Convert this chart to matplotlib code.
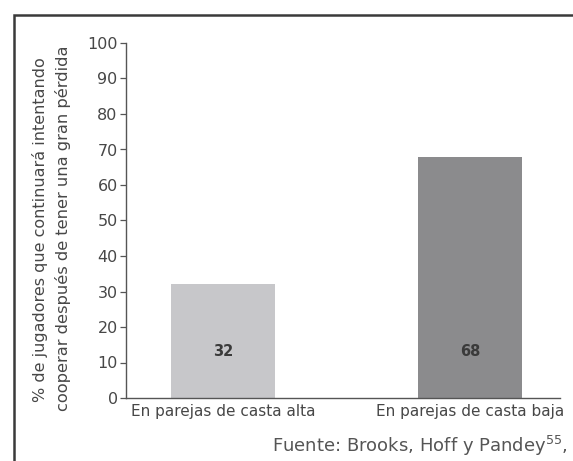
import matplotlib
matplotlib.use("Agg")
import matplotlib.pyplot as plt
from matplotlib.patches import Rectangle

categories = ["En parejas de casta alta", "En parejas de casta baja"]
values = [32, 68]
bar_colors = ["#c7c7ca", "#8b8b8d"]
y_ticks = list(range(0, 101, 10))

font = "DejaVu Sans"
text_color = "#474747"

fig = plt.figure(figsize=(5.73, 4.61), dpi=100)
ax = fig.add_axes([126 / 573, 1 - 398 / 461, (560 - 126) / 573, (398 - 43) / 461])

x = list(range(len(categories)))
ax.bar(x, values, width=0.42, color=bar_colors, zorder=2)
for xi, v in zip(x, values):
    ax.text(xi, 13, str(v), ha="center", va="center", fontsize=10.5,
            fontweight="bold", color="#3a3a3a", family=font)

ax.set_xlim(-0.393, 1.364)
ax.set_ylim(0, 100)
ax.set_yticks(y_ticks)
ax.set_yticklabels([str(t) for t in y_ticks], family=font, fontsize=11.5, color=text_color)
ax.set_xticks(x)
ax.set_xticklabels(categories, family=font, fontsize=11, color=text_color)
ax.tick_params(axis="x", length=0, pad=4)
ax.tick_params(axis="y", length=4, width=0.9, color="#555555", pad=2)

for side in ("top", "right"):
    ax.spines[side].set_visible(False)
for side in ("left", "bottom"):
    ax.spines[side].set_color("#555555")
    ax.spines[side].set_linewidth(1.0)

# two-line y label
fig.text(40 / 573, 1 - 230 / 461, "% de jugadores que continuará intentando",
         rotation=90, ha="center", va="center", family=font, fontsize=11.5, color=text_color)
fig.text(63 / 573, 1 - 228 / 461, "cooperar después de tener una gran pérdida",
         rotation=90, ha="center", va="center", family=font, fontsize=11.7, color=text_color)

# source note
fig.text(568 / 573, 1 - 446 / 461, "Fuente: Brooks, Hoff y Pandey$^{55}$,",
         ha="right", va="center", family=font, fontsize=13, color="#555555")

# outer frame (open at right and bottom)
fig.add_artist(Rectangle((14 / 573, -0.1), 1.2, 1 - 15 / 461 + 0.1,
                         transform=fig.transFigure, fill=False,
                         edgecolor="#3a3a3a", linewidth=1.8))

fig.savefig("out.png", dpi=100)
